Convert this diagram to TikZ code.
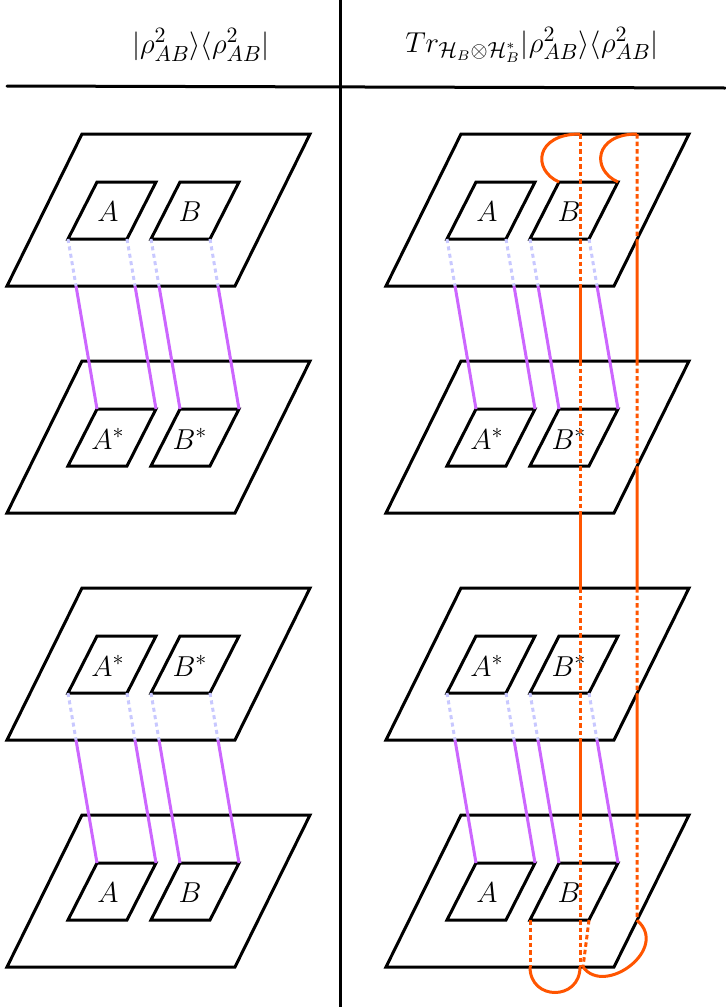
\documentclass[tikz,border=0pt]{standalone}
\usetikzlibrary{calc}
\definecolor{linkviolet}{RGB}{204,102,255}
\definecolor{behindviolet}{RGB}{200,200,255}
\definecolor{traceorange}{RGB}{255,85,0}
\tikzset{
  plane/.style={line width=1.5pt},
  link/.style={line width=1.5pt, draw=linkviolet},
  behind/.style={line width=1.5pt, draw=behindviolet, dash pattern=on 2pt off 1.75pt},
  trace/.style={line width=1.5pt, draw=traceorange},
  tracebehind/.style={trace, dash pattern=on 2.25pt off 1.5pt},
  pics/layer/.style 2 args={code={
    % sheet
    \coordinate (-tl) at (0,0);
    \coordinate (-tr) at (228,0);
    \coordinate (-br) at (153,152);
    \coordinate (-bl) at (-75,152);
    \draw[plane] (-tl) -- (-tr) -- (-br) -- (-bl) -- cycle;
    % left square
    \coordinate (-Atl) at (15,48);
    \coordinate (-Atr) at (74,48);
    \coordinate (-Abr) at (45,105);
    \coordinate (-Abl) at (-14,105);
    \draw[plane] (-Atl) -- (-Atr) -- (-Abr) -- (-Abl) -- cycle;
    \node (-A) at (26,78) {$#1$};
    % right square
    \coordinate (-Btl) at (98,48);
    \coordinate (-Btr) at (157,48);
    \coordinate (-Bbr) at (128,105);
    \coordinate (-Bbl) at (69,105);
    \draw[plane] (-Btl) -- (-Btr) -- (-Bbr) -- (-Bbl) -- cycle;
    \node (-B) at (108,78) {$#2$};
  }}
}

\begin{document}
\begin{tikzpicture}[x=0.5pt, y=-0.5pt, font=\fontsize{15}{18}\selectfont]
    \useasboundingbox (0,0) rectangle (725,1007);

    % Table
    \node (lhead) at (201,45) {$|\rho^2_{AB}\rangle\langle\rho^2_{AB}|$};
    \node (rhead) at (532,45) {$Tr_{\mathcal{H}_B\otimes\mathcal{H}_B^*}|\rho^2_{AB}\rangle\langle\rho^2_{AB}|$};
    \draw[plane] (340,0) -- (340,1007);
    \draw[plane, line cap=round] (7,86) -- (725,88);

    % Sheets, left column
    \pic (p1) at (82,134) {layer={A}{B}};
    \pic (p2) at (82,361) {layer={A^*}{B^*}};
    \pic (p3) at (82,588) {layer={A^*}{B^*}};
    \pic (p4) at (82,815) {layer={A}{B}};

    % Sheets, right column
    \pic (q1) at (461,134) {layer={A}{B}};
    \pic (q2) at (461,361) {layer={A^*}{B^*}};
    \pic (q3) at (461,588) {layer={A^*}{B^*}};
    \pic (q4) at (461,815) {layer={A}{B}};

    % Links between squares
    \foreach \up/\lo in {p1/p2, p3/p4, q1/q2, q3/q4}
      \foreach \s/\e in {Abl/Atl, Abr/Atr, Bbl/Btl, Bbr/Btr} {
        \draw[behind] (\up-\s) -- ($(\up-\s)!0.2765!(\lo-\e)$) coordinate (cut);
        \draw[link] (cut) -- (\lo-\e);
      }

    % Partial trace over B
    \coordinate (o1) at (580,134);
    \coordinate (o2) at (637,134);
    \draw[trace] (q1-Btl) .. controls +(-27,-12) and +(-45,0) .. (o1);
    \draw[trace] (q1-Btr) .. controls +(-27,-12) and +(-43,0) .. (o2);
    \foreach \k in {1,...,4} {
      \draw[tracebehind] (o1 |- q\k-tl) -- (o1 |- q\k-bl);
      \draw[tracebehind] (o2 |- q\k-tl) -- ($(q\k-tr)!0.693!(q\k-br)$) coordinate (r\k);
    }
    \foreach \k/\n in {1/2, 2/3, 3/4} {
      \draw[trace] (o1 |- q\k-bl) -- (o1 |- q\n-tl);
      \draw[trace] (r\k) -- (o2 |- q\n-tl);
    }
    \coordinate (e1) at (o1 |- q4-bl);
    \coordinate (f1) at (q4-Bbl |- q4-bl);
    \coordinate (f2) at ($(q4-Bbr |- q4-bl)+(-6,0)$);
    \draw[tracebehind] (q4-Bbl) -- (f1);
    \draw[tracebehind] (q4-Bbr) -- (f2);
    \draw[trace] (f1) .. controls +(0,34) and +(0,34) .. (e1);
    \draw[trace] (f2) .. controls +(22,30) and +(33,28) .. (r4);

\end{tikzpicture}
\end{document}
